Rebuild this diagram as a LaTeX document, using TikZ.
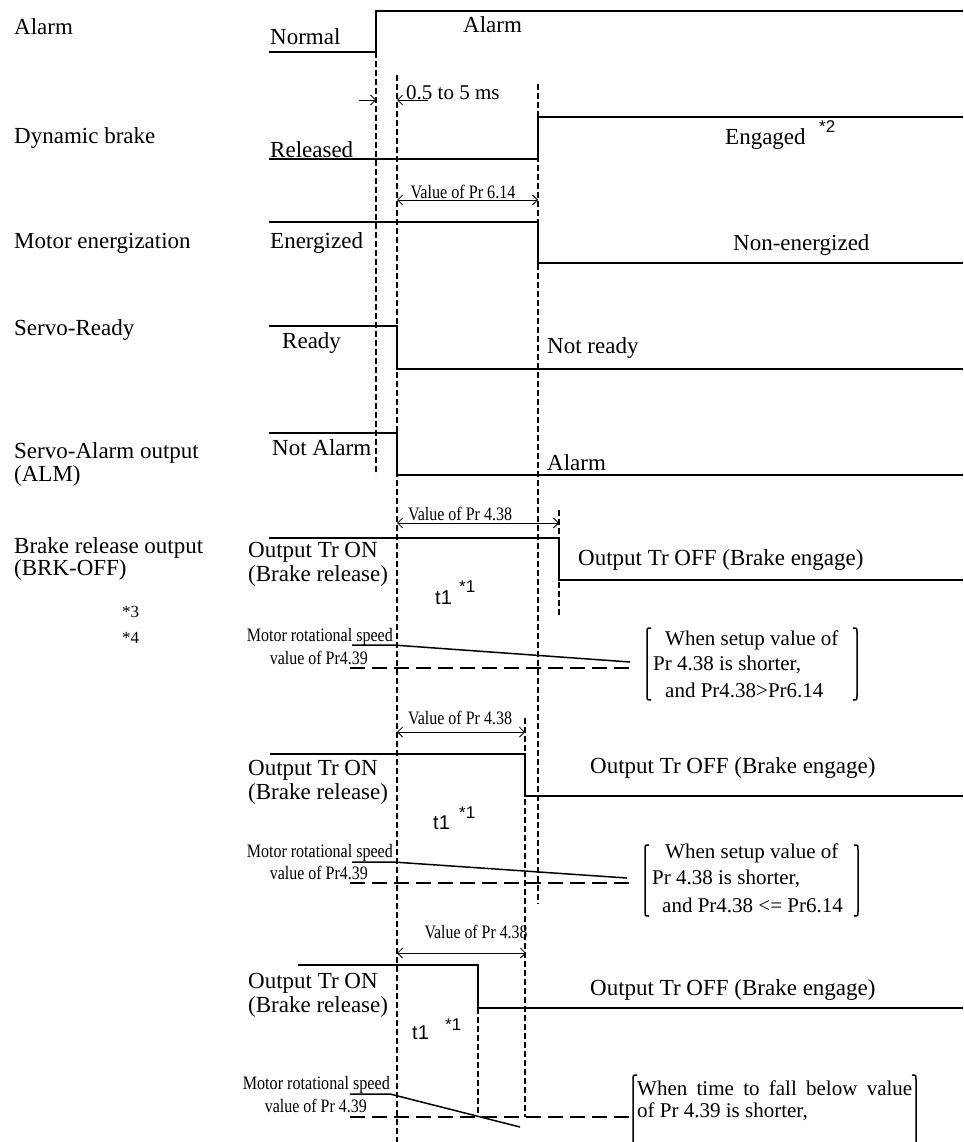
\documentclass[tikz,border=0pt]{standalone}
\usepackage{fontspec}
\usepackage{graphicx}
\setmainfont{Liberation Serif}
\newfontfamily\sansf{Liberation Sans}
\usetikzlibrary{arrows.meta}
\newcommand{\sqz}[2]{\resizebox{#1}{\height}{#2}}
\begin{document}
\begin{tikzpicture}[x=1pt,y=-1pt,
  sig/.style={line width=1.5pt},
  vdash/.style={line width=1.8pt, dash pattern=on 6pt off 3pt},
  thr/.style={line width=2.4pt, dash pattern=on 15pt off 7pt},
  tip/.tip={Straight Barb[length=5pt,width=10pt,line width=0.8pt]},
  dim/.style={line width=0.8pt, tip-tip},
  half/.style={line width=0.8pt, -tip},
  lbl/.style={inner sep=0pt, anchor=west, font=\fontsize{23}{26}\selectfont},
  sml/.style={inner sep=0pt, font=\fontsize{19}{22}\selectfont},
  brt/.style={inner sep=0pt, anchor=west, font=\fontsize{21}{24}\selectfont},
  note/.style={inner sep=0pt, anchor=west, font=\sansf\fontsize{20}{22}\selectfont},
  supn/.style={inner sep=0pt, anchor=west, font=\sansf\fontsize{17}{19}\selectfont},
  star/.style={inner sep=0pt, anchor=west, font=\fontsize{17}{20}\selectfont},
  brk/.style={line width=1.5pt},
]
\useasboundingbox (0,0) rectangle (963,1142);

% ---------- left labels ----------
\node[lbl] (lAlarm) at (14,27) {Alarm};
\node[lbl] (lDyn) at (14,138) {Dynamic brake};
\node[lbl] (lMot) at (14,243) {Motor energization};
\node[lbl] (lRdy) at (14,330) {Servo-Ready};
\node[lbl] (lAlm1) at (14,453) {Servo-Alarm output};
\node[lbl] (lAlm2) at (14,476) {(ALM)};
\node[lbl] (lBrk1) at (14,548) {Brake release output};
\node[lbl] (lBrk2) at (14,570) {(BRK-OFF)};
\node[star] (s3) at (122,612) {*3};
\node[star] (s4) at (122,638) {*4};

% ---------- vertical dashed lines ----------
\coordinate (vA1) at (376,52);  \coordinate (vA2) at (376,475);
\coordinate (vB1) at (397,75);  \coordinate (vB2) at (397,1142);
\coordinate (vC1) at (538,84);  \coordinate (vC2) at (538,904);
\coordinate (vD1) at (559,510); \coordinate (vD2) at (559,617);
\coordinate (vE1) at (525,718); \coordinate (vE2) at (525,1117);
\coordinate (vF1) at (478,1008); \coordinate (vF2) at (478,1117);
\draw[vdash] (vA1) -- (vA2);
\draw[vdash] (vB1) -- (vB2);
\draw[vdash] (vC1) -- (vC2);
\draw[vdash] (vD1) -- (vD2);
\draw[vdash] (vE1) -- (vE2);
\draw[vdash] (vF1) -- (vF2);

% ---------- Alarm ----------
\draw[sig] (269,52) -- (376,52) -- (376,11) -- (963,11);
\node[lbl] (tNormal) at (270,37) {Normal};
\node[lbl] (tAlarm) at (463,25) {Alarm};
% 0.5 to 5 ms
\coordinate (m1) at (359,100); \coordinate (m2) at (376,100);
\coordinate (m3) at (428,100); \coordinate (m4) at (397,100);
\draw[half] (m1) -- (m2);
\draw[half] (m3) -- (m4);
\node[inner sep=0pt, anchor=west, font=\fontsize{21}{24}\selectfont] (tms) at (406,93) {0.5 to 5 ms};

% ---------- Dynamic brake ----------
\draw[sig] (269,159) -- (538,159) -- (538,117) -- (963,117);
\node[lbl] (tRel) at (270,150) {Released};
\node[lbl] (tEng) at (725,139) {Engaged};
\node[supn] (s2) at (819,127) {*2};
\coordinate (p1) at (397,200); \coordinate (p2) at (538,200);
\draw[dim] (p1) -- (p2);
\node[sml] (tPr614) at (463,192) {\sqz{105pt}{Value of Pr 6.14}};

% ---------- Motor energization ----------
\draw[sig] (269,222) -- (538,222) -- (538,263) -- (963,263);
\node[lbl] (tEnr) at (270,243) {Energized};
\node[lbl] (tNon) at (733,245) {Non-energized};

% ---------- Servo-Ready ----------
\draw[sig] (269,326) -- (397,326) -- (397,369) -- (963,369);
\node[lbl] (tRdy) at (282,343) {Ready};
\node[lbl] (tNrdy) at (547,348) {Not ready};

% ---------- Servo-Alarm ----------
\draw[sig] (269,433) -- (397,433) -- (397,475) -- (963,475);
\node[lbl] (tNal) at (272,448) {Not Alarm};
\node[lbl] (tAl2) at (547,463) {Alarm};

% ---------- Brake release 1 ----------
\coordinate (q1) at (397,523); \coordinate (q2) at (559,523);
\draw[dim] (q1) -- (q2);
\node[sml] (tPr438a) at (460,514) {\sqz{104pt}{Value of Pr 4.38}};
\draw[sig] (269,538) -- (559,538) -- (559,580) -- (963,580);
\node[lbl] (on1a) at (248,552) {Output Tr ON};
\node[lbl] (on1b) at (248,576) {(Brake release)};
\node[lbl] (off1) at (578,560) {Output Tr OFF (Brake engage)};
\node[note] (t1a) at (435,598) {t1};
\node[supn] (t1as) at (459,587) {*1};
% speed 1
\node[sml, anchor=east] (ms1) at (393,637) {\sqz{146pt}{Motor rotational speed}};
\node[sml, anchor=east] (vp1) at (368,658) {\sqz{98pt}{value of Pr4.39}};
\draw[sig] (352,645) -- (393,645) -- (630,662);
\draw[thr] (350,668) -- (630,668);
\draw[brk] (651,628) .. controls (647,628) .. (647,633) -- (647,695) .. controls (647,700) .. (651,700);
\draw[brk] (853,628) .. controls (857,628) .. (857,633) -- (857,695) .. controls (857,700) .. (853,700);
\node[brt] (b1a) at (665,640) {When setup value of};
\node[brt] (b1b) at (653,665) {Pr 4.38 is shorter,};
\node[brt] (b1c) at (665,690) {and Pr4.38>Pr6.14};

% ---------- Brake release 2 ----------
\coordinate (r1) at (397,732); \coordinate (r2) at (525,732);
\draw[dim] (r1) -- (r2);
\node[sml] (tPr438b) at (460,718) {\sqz{104pt}{Value of Pr 4.38}};
\draw[sig] (270,754) -- (525,754) -- (525,796) -- (963,796);
\node[lbl] (on2a) at (248,770) {Output Tr ON};
\node[lbl] (on2b) at (248,794) {(Brake release)};
\node[lbl] (off2) at (590,768) {Output Tr OFF (Brake engage)};
\node[note] (t1b) at (433,823) {t1};
\node[supn] (t1bs) at (459,813) {*1};
% speed 2
\node[sml, anchor=east] (ms2) at (393,853) {\sqz{146pt}{Motor rotational speed}};
\node[sml, anchor=east] (vp2) at (368,873) {\sqz{98pt}{value of Pr4.39}};
\draw[sig] (352,862) -- (393,862) -- (627,878);
\draw[thr] (350,883) -- (630,883);
\draw[brk] (649,845) .. controls (645,845) .. (645,850) -- (645,911) .. controls (645,916) .. (649,916);
\draw[brk] (854,845) .. controls (858,845) .. (858,850) -- (858,911) .. controls (858,916) .. (854,916);
\node[brt] (b2a) at (665,853) {When setup value of};
\node[brt] (b2b) at (652,879) {Pr 4.38 is shorter,};
\node[brt] (b2c) at (662,905) {and Pr4.38 <= Pr6.14};

% ---------- Brake release 3 ----------
\coordinate (u1) at (397,953); \coordinate (u2) at (526,953);
\draw[dim] (u1) -- (u2);
\node[sml] (tPr438c) at (476,932) {\sqz{103pt}{Value of Pr 4.38}};
\draw[sig] (298,965) -- (478,965) -- (478,1008) -- (963,1008);
\node[lbl] (on3a) at (248,983) {Output Tr ON};
\node[lbl] (on3b) at (248,1007) {(Brake release)};
\node[lbl] (off3) at (590,990) {Output Tr OFF (Brake engage)};
\node[note] (t1c) at (412,1033) {t1};
\node[supn] (t1cs) at (445,1025) {*1};
% speed 3
\node[sml, anchor=east] (ms3) at (390,1085) {\sqz{147pt}{Motor rotational speed}};
\node[sml, anchor=east] (vp3) at (367,1106) {\sqz{102pt}{value of Pr 4.39}};
\draw[sig] (350,1094) -- (390,1094) -- (520,1127);
\draw[thr] (350,1117) -- (630,1117);
\draw[brk] (637,1075) .. controls (633,1075) .. (633,1080) -- (633,1142);
\draw[brk] (912,1075) .. controls (916,1075) .. (916,1080) -- (916,1142);
\node[brt] (b3a) at (637,1088) {\makebox[275pt][s]{When time to fall below value}};
\node[brt] (b3b) at (637,1112) {of Pr 4.39 is shorter,};

\end{tikzpicture}
\end{document}
